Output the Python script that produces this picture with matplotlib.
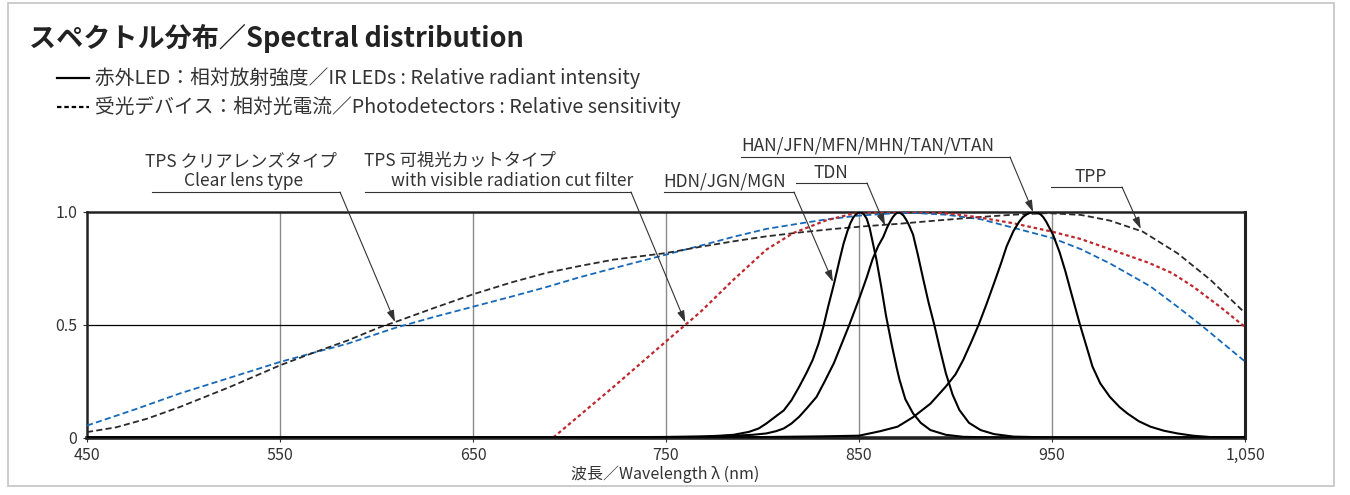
import matplotlib
matplotlib.use("Agg")
import matplotlib.pyplot as plt
from matplotlib.lines import Line2D
from matplotlib.patches import Rectangle

plt.rcParams['font.family'] = ['Noto Sans CJK JP', 'DejaVu Sans']

# ---------------- data ----------------
x_ticks = [450, 550, 650, 750, 850, 950, 1050]
x_tick_labels = ['450', '550', '650', '750', '850', '950', '1,050']
y_ticks = [0, 0.5, 1.0]
y_tick_labels = ['0', '0.5', '1.0']

# photodetector: black dashed
pd_black_wl = [450, 465, 481, 498, 524, 550, 567, 585, 602, 610, 630, 650, 670, 688, 705,
               723, 750, 768, 785, 802, 820, 837, 855, 871, 890, 913, 930, 948, 965, 980,
               997, 1015, 1032, 1050]
pd_black_val = [0.024, 0.045, 0.083, 0.135, 0.224, 0.32, 0.375, 0.43, 0.49, 0.513, 0.575,
                0.635, 0.688, 0.73, 0.76, 0.789, 0.818, 0.846, 0.87, 0.892, 0.91, 0.925,
                0.938, 0.948, 0.962, 0.978, 0.988, 0.995, 0.987, 0.962, 0.913, 0.817,
                0.70, 0.552]

# photodetector: blue dashed
pd_blue_wl = [450, 475, 498, 524, 550, 567, 585, 610, 630, 650, 670, 688, 705, 723, 750,
              768, 785, 802, 820, 833, 850, 871, 880, 895, 913, 930, 950, 965, 980, 1001,
              1015, 1027, 1050]
pd_blue_val = [0.053, 0.125, 0.195, 0.265, 0.335, 0.375, 0.416, 0.487, 0.535, 0.58, 0.625,
               0.667, 0.71, 0.751, 0.811, 0.851, 0.89, 0.925, 0.95, 0.967, 0.984, 0.996,
               0.995, 0.988, 0.968, 0.93, 0.885, 0.835, 0.772, 0.67, 0.58, 0.5, 0.337]

# photodetector: red dotted
pd_red_wl = [691.6, 723, 750, 768, 785, 802, 816, 833, 847, 860, 871, 887, 900, 913, 930,
             950, 965, 980, 1000, 1012, 1023, 1037, 1050]
pd_red_val = [0.0, 0.226, 0.426, 0.558, 0.70, 0.833, 0.907, 0.963, 0.993, 1.0, 1.0, 1.0,
              0.99, 0.975, 0.95, 0.913, 0.88, 0.835, 0.775, 0.73, 0.67, 0.58, 0.49]

# IR LED 850 nm (HDN/JGN/MGN)
led850_wl = [450, 700, 750, 768, 778, 785, 793, 798, 802, 806, 811, 815, 819, 823, 826,
             829, 831.5, 834, 837, 840, 842, 844, 845.5, 847, 848.5, 849.5, 850.5, 851.5,
             852.5, 854, 855.5, 857, 859, 861.5, 864, 867, 869.5, 871, 874, 878, 882,
             887, 895, 904, 915, 930, 1050]
led850_val = [0, 0, 0.002, 0.004, 0.008, 0.012, 0.025, 0.04, 0.062, 0.088, 0.12, 0.165,
              0.225, 0.29, 0.344, 0.415, 0.49, 0.58, 0.68, 0.79, 0.86, 0.915, 0.95, 0.975,
              0.99, 0.997, 1.0, 0.997, 0.99, 0.97, 0.93, 0.87, 0.79, 0.67, 0.54, 0.41,
              0.31, 0.256, 0.17, 0.107, 0.065, 0.033, 0.012, 0.003, 0.001, 0, 0]

# IR LED 870 nm (TDN)
led870_wl = [450, 700, 760, 770, 785, 795, 802, 807, 811, 815, 819, 823, 828, 832, 837,
             841, 845, 850.5, 854, 857, 860, 862.6, 864.5, 866, 867.5, 869, 870.3, 871.5,
             873, 874.5, 876, 878, 880.5, 883, 886, 889, 892, 895, 898.5, 902, 907, 913,
             920, 930, 945, 960, 1050]
led870_val = [0, 0, 0.003, 0.004, 0.008, 0.012, 0.018, 0.028, 0.04, 0.062, 0.092, 0.13,
              0.18, 0.245, 0.33, 0.415, 0.5, 0.625, 0.71, 0.79, 0.85, 0.89, 0.93, 0.955,
              0.977, 0.992, 0.998, 0.995, 0.985, 0.965, 0.94, 0.9, 0.81, 0.713, 0.6, 0.5,
              0.39, 0.285, 0.19, 0.122, 0.065, 0.033, 0.015, 0.004, 0.001, 0, 0]

# IR LED 940 nm (HAN/JFN/MFN/MHN/TAN/VTAN)
led940_wl = [450, 750, 800, 830, 850, 861, 870, 878, 887, 895, 900, 904, 908, 912, 916,
             920, 923.5, 926.5, 930, 933, 935, 937, 938.7, 940.3, 942, 944, 945.5, 947,
             950.5, 954, 957, 960, 964.5, 968, 971, 975, 980, 985, 989, 995, 1001, 1008,
             1015, 1023, 1032, 1050]
led940_val = [0, 0, 0.002, 0.005, 0.008, 0.028, 0.048, 0.09, 0.15, 0.226, 0.28, 0.344,
              0.42, 0.5, 0.59, 0.685, 0.77, 0.848, 0.915, 0.957, 0.978, 0.99, 0.997, 1.0,
              0.997, 0.99, 0.977, 0.957, 0.9, 0.82, 0.735, 0.64, 0.5, 0.4, 0.314, 0.24,
              0.18, 0.135, 0.107, 0.072, 0.048, 0.03, 0.018, 0.008, 0.002, 0]

# annotation targets (wavelength, value)
ann_clear = (609.6, 0.512)
ann_viscut = (760.0, 0.51)
ann_hdn = (836.5, 0.69)
ann_tdn = (863.5, 0.94)
ann_han = (940.2, 1.0)
ann_tpp = (996.0, 0.925)

# ---------------- figure ----------------
W, H = 1350, 495
fig = plt.figure(figsize=(W / 100, H / 100), dpi=100)
fig.patch.set_facecolor('white')


def fx(x):
    return x / W


def fy(y):
    return 1 - y / H


ax = fig.add_axes([fx(87), fy(437.5), fx(1245) - fx(87), fy(212) - fy(437.5)])
ax.set_xlim(450, 1050)
ax.set_ylim(0, 1)

for v in [550, 650, 750, 850, 950]:
    ax.axvline(v, color='#8a8a8a', lw=1.0, zorder=1)
ax.axhline(0.5, color='black', lw=0.9, zorder=1)

dash_c = '#2a2a2a'
ax.plot(pd_blue_wl, pd_blue_val, color='#1769b8', lw=1.3, dashes=(3.4, 1.8), zorder=3)
ax.plot(pd_black_wl, pd_black_val, color=dash_c, lw=1.3, dashes=(3.4, 1.8), zorder=3)
ax.plot(pd_red_wl, pd_red_val, color='#c0272d', lw=1.6, dashes=(1.6, 1.3), zorder=3)

for wl, val in [(led850_wl, led850_val), (led870_wl, led870_val), (led940_wl, led940_val)]:
    ax.plot(wl, val, color='black', lw=1.5, zorder=4, solid_joinstyle='round')

ax.set_xticks(x_ticks)
ax.set_xticklabels(x_tick_labels)
ax.set_yticks(y_ticks)
ax.set_yticklabels(y_tick_labels)
ax.tick_params(axis='both', labelsize=11.5, colors='#333333', length=3, width=0.8, pad=4)
for s, lw in [('top', 1.8), ('bottom', 2.6), ('left', 1.8), ('right', 2.2)]:
    ax.spines[s].set_linewidth(lw)
    ax.spines[s].set_color('#222222')

fig.text(fx(665), fy(474), '波長／Wavelength λ (nm)', ha='center', va='center',
         fontsize=11.5, color='#333333')

# title and legend
fig.text(fx(29), fy(38), 'スペクトル分布／Spectral distribution', ha='left', va='center',
         fontsize=19.5, fontweight='bold', color='#222222')
fig.add_artist(Line2D([fx(57), fx(89)], [fy(78), fy(78)], color='black', lw=1.6))
fig.text(fx(95), fy(78), '赤外LED：相対放射強度／IR LEDs : Relative radiant intensity',
         ha='left', va='center', fontsize=14.2, color='#333333')
fig.add_artist(Line2D([fx(57), fx(89)], [fy(107), fy(107)], color='black', lw=1.6,
                      dashes=(2.0, 1.3)))
fig.text(fx(95), fy(107), '受光デバイス：相対光電流／Photodetectors : Relative sensitivity',
         ha='left', va='center', fontsize=14.2, color='#333333')

lead_c = '#333333'


def underline(x0, x1, y):
    fig.add_artist(Line2D([fx(x0), fx(x1)], [fy(y), fy(y)], color=lead_c, lw=0.8))


def leader(target, x, y):
    ax.annotate('', xy=target, xycoords='data', xytext=(fx(x), fy(y)),
                textcoords='figure fraction', annotation_clip=False,
                arrowprops=dict(arrowstyle='-|>,head_length=0.7,head_width=0.22',
                                color=lead_c, lw=0.8, shrinkA=0, shrinkB=0))


fs = 12.5
fig.text(fx(145), fy(161), 'TPS クリアレンズタイプ', ha='left', va='center', fontsize=fs,
         color='#333333')
fig.text(fx(303), fy(181), 'Clear lens type', ha='right', va='center', fontsize=fs,
         color='#333333')
underline(152, 340, 192)
leader(ann_clear, 340, 192)

fig.text(fx(364), fy(161), 'TPS 可視光カットタイプ', ha='left', va='center', fontsize=fs,
         color='#333333')
fig.text(fx(633), fy(181), 'with visible radiation cut filter', ha='right', va='center',
         fontsize=fs, color='#333333')
underline(365, 631, 192)
leader(ann_viscut, 631, 192)

fig.text(fx(663), fy(181), 'HDN/JGN/MGN', ha='left', va='center', fontsize=fs,
         color='#333333')
underline(664, 794, 192)
leader(ann_hdn, 794, 192)

fig.text(fx(831), fy(173), 'TDN', ha='center', va='center', fontsize=fs, color='#333333')
underline(796, 867, 183)
leader(ann_tdn, 867, 183)

fig.text(fx(741), fy(146), 'HAN/JFN/MFN/MHN/TAN/VTAN', ha='left', va='center', fontsize=fs,
         color='#333333')
underline(741, 1010, 157)
leader(ann_han, 1010, 157)

fig.text(fx(1091), fy(177), 'TPP', ha='center', va='center', fontsize=fs, color='#333333')
underline(1051, 1122, 187)
leader(ann_tpp, 1122, 187)

# outer frame
fig.add_artist(Rectangle((fx(8), fy(486)), fx(1334) - fx(8), fy(3) - fy(486),
                         transform=fig.transFigure, fill=False, edgecolor='#c8c8c8',
                         lw=1.3))

fig.savefig('out.png', dpi=100)
